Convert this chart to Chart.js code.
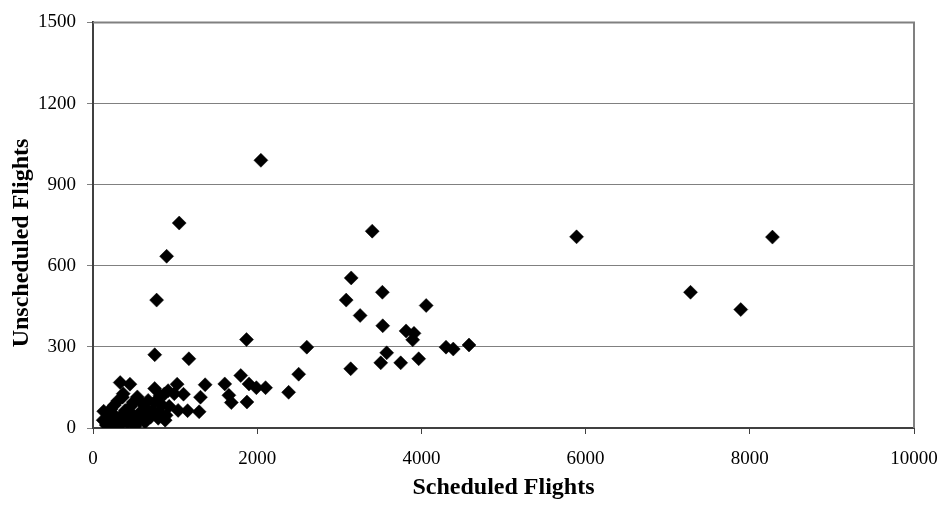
<!DOCTYPE html>
<html>
<head>
<meta charset="utf-8">
<script src="https://cdn.jsdelivr.net/npm/chart.js@4"></script>
<style>
  html, body { margin: 0; padding: 0; background: #fff; }
  #wrap { width: 950px; height: 506px; }
</style>
</head>
<body>
<div id="wrap"><canvas id="c" width="950" height="506"></canvas></div>
<script>
const scheduledFlights = [
  2045, 1050, 897, 775, 752, 1870, 1168, 3401, 3145, 3084, 3254, 3525, 4058, 3529,
  3813, 3910, 3894, 3577, 3505, 3748, 3967, 4300, 4388, 4580, 5890, 8276, 7278, 7890,
  2604, 2505, 2383, 3139, 1800, 1900, 1990, 2102, 1605, 1655, 1685, 1875, 1366, 1309,
  1293, 1152, 1025, 1102, 990, 870, 879, 915, 751,
  331, 450, 359, 124, 161, 185, 258, 307, 331, 368, 392, 453, 489, 540, 575, 635, 672,
  721, 794, 842, 891, 928, 1037, 209, 514, 282, 611, 818, 600, 700, 420, 250, 180, 130,
  200, 260, 350, 420, 480, 560, 650, 750, 800, 460, 300, 220
];
const unscheduledFlights = [
  990, 758, 635, 473, 271, 327, 256, 728, 555, 473, 416, 502, 453, 378,
  359, 350, 326, 278, 241, 241, 256, 299, 292, 307, 707, 706, 502, 438,
  299, 199, 132, 219, 194, 163, 149, 149, 163, 121, 94, 96, 160, 114,
  60, 64, 162, 125, 127, 126, 29, 138, 146,
  168, 162, 114, 29, 11, 58, 84, 36, 11, 127, 65, 29, 95, 115, 58, 22, 102,
  65, 36, 84, 47, 80, 65, 15, 7, 5, 47, 120, 90, 40, 45, 50, 35, 62,
  40, 20, 45, 20, 50, 30, 70, 95, 60, 80, 100, 70
];
const xTickValues = [0, 2000, 4000, 6000, 8000, 10000];
const yTickValues = [0, 300, 600, 900, 1200, 1500];
const xTitle = 'Scheduled Flights';
const yTitle = 'Unscheduled Flights';

const points = scheduledFlights.map((x, i) => ({ x: x, y: unscheduledFlights[i] }));

const frame = {
  id: 'frame',
  afterDraw(chart) {
    const { ctx, chartArea: a } = chart;
    ctx.save();
    ctx.strokeStyle = '#808080';
    ctx.lineWidth = 2;
    ctx.beginPath();
    ctx.moveTo(a.left, a.top);
    ctx.lineTo(a.right, a.top);
    ctx.lineTo(a.right, a.bottom);
    ctx.stroke();
    // y axis title
    ctx.fillStyle = '#000';
    ctx.font = 'bold 24px "Liberation Serif"';
    ctx.textAlign = 'center';
    ctx.textBaseline = 'middle';
    ctx.translate(22, 243);
    ctx.rotate(-Math.PI / 2);
    ctx.fillText(yTitle, 0, 0);
    ctx.restore();
  }
};

new Chart(document.getElementById('c'), {
  type: 'scatter',
  data: {
    datasets: [{
      data: points,
      pointStyle: 'rectRot',
      pointRadius: 7,
      pointBorderWidth: 0.5,
      backgroundColor: '#000',
      borderColor: '#000'
    }]
  },
  options: {
    responsive: false,
    animation: false,
    layout: { padding: { left: 0, right: 36, top: 16, bottom: 0 } },
    plugins: { legend: { display: false }, tooltip: { enabled: false } },
    scales: {
      x: {
        type: 'linear',
        min: 0, max: 10000,
        afterFit(s) { s.height = 78; s.paddingLeft = 0; s.paddingRight = 0; },
        afterBuildTicks(s) { s.ticks = xTickValues.map(v => ({ value: v })); },
        grid: { drawOnChartArea: false, drawTicks: true, tickLength: 6, color: '#404040', lineWidth: 1 },
        border: { display: true, color: '#404040', width: 2 },
        ticks: { color: '#000', padding: 14, maxRotation: 0, callback: v => String(v),
                 font: { family: 'Liberation Serif', size: 19 } },
        title: { display: true, text: xTitle, color: '#000', padding: { top: 0, bottom: 4 },
                 font: { family: 'Liberation Serif', size: 24, weight: 'bold' } }
      },
      y: {
        type: 'linear',
        min: 0, max: 1500,
        afterFit(s) { s.width = 93; },
        afterBuildTicks(s) { s.ticks = yTickValues.map(v => ({ value: v })); },
        grid: { drawOnChartArea: true, drawTicks: true, tickLength: 6, color: '#808080', lineWidth: 1 },
        border: { display: true, color: '#404040', width: 2 },
        ticks: { color: '#000', padding: 11, callback: v => String(v),
                 font: { family: 'Liberation Serif', size: 19 } },
        title: { display: false }
      }
    }
  },
  plugins: [frame]
});
</script>
</body>
</html>
